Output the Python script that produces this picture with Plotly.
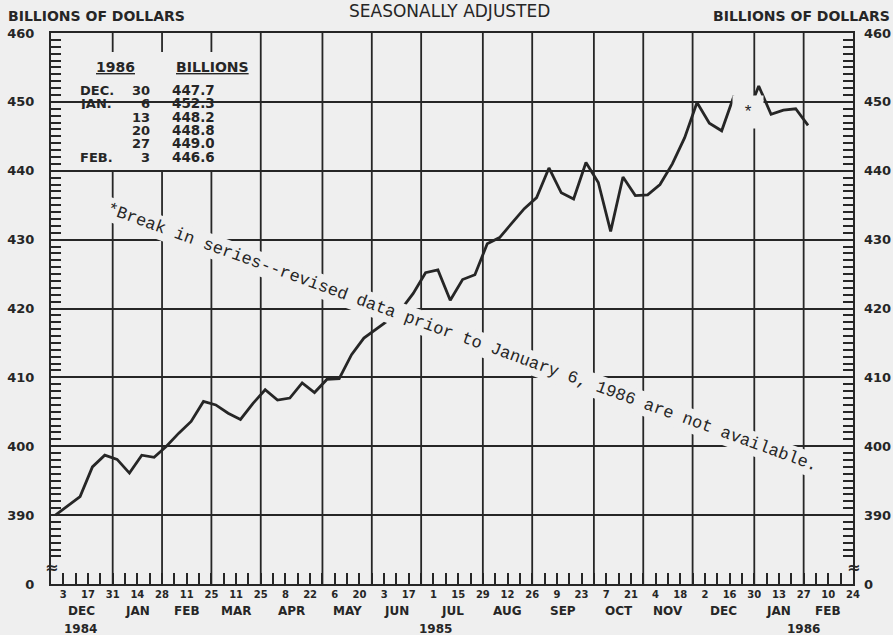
import pandas as pd
import plotly.graph_objects as go

# ---------------- data ----------------
# Money stock, weekly (week ending Monday), billions of dollars, seasonally adjusted
old_first_week = "1984-12-03"
old_values = [
    390.0, 391.4, 392.7, 397.0, 398.7, 398.1, 396.1, 398.7, 398.4, 400.0,
    401.9, 403.6, 406.5, 406.0, 404.8, 403.9, 406.2, 408.2, 406.7, 407.0,
    409.2, 407.8, 409.7, 409.8, 413.3, 415.7, 417.0, 418.3, 419.8, 422.2,
    425.2, 425.6, 421.2, 424.2, 424.9, 429.4, 430.3, 432.4, 434.5, 436.1,
    440.4, 436.8, 435.9, 441.2, 438.3, 431.2, 439.1, 436.4, 436.5, 438.0,
    441.0, 444.8, 449.9, 446.9, 445.8, 450.9,
]
new_weeks = ["1985-12-30", "1986-01-06", "1986-01-13", "1986-01-20", "1986-01-27", "1986-02-03"]
new_values = [447.7, 452.3, 448.2, 448.8, 449.0, 446.6]

table_months = ["DEC.", "JAN.", "", "", "", "FEB."]
table_days = ["30", "6", "13", "20", "27", "3"]

x_start, x_end = "1984-11-26", "1986-02-24"
week_tick_first, week_tick_last = "1984-12-03", "1986-02-24"
day_labels = ["3", "17", "31", "14", "28", "11", "25", "11", "25", "8", "22", "6", "20",
              "3", "17", "1", "15", "29", "12", "26", "9", "23", "7", "21", "4", "18",
              "2", "16", "30", "13", "27", "10", "24"]
month_seps = ["1984-12-31", "1985-01-28", "1985-02-25", "1985-03-25", "1985-04-29",
              "1985-05-27", "1985-06-24", "1985-07-29", "1985-08-26", "1985-09-30",
              "1985-10-28", "1985-11-25", "1985-12-30", "1986-01-27"]
month_names = ["DEC", "JAN", "FEB", "MAR", "APR", "MAY", "JUN", "JUL", "AUG", "SEP",
               "OCT", "NOV", "DEC", "JAN", "FEB"]
year_names = ["1984", "1985", "1986"]
year_at = ["1984-12-13", "1985-07-02", "1986-01-27"]

y_tick_vals = [380, 390, 400, 410, 420, 430, 440, 450, 460]
y_tick_text = ["0", "390", "400", "410", "420", "430", "440", "450", "460"]

# ---------------- styling ----------------
BG = "#efefef"
INK = "#262626"
SANS = "DejaVu Sans"
MONO = "Liberation Mono"
PLOT_SHIFT = pd.Timedelta(hours=108)   # weekly points drawn near start of the week

W, H = 893, 635
ML, MR, MT, MB = 51, 40, 33, 51
PW, PH = W - ML - MR, H - MT - MB


def px(x):
    return (x - ML) / PW


def py(y):
    return (H - MB - y) / PH


old_weeks = pd.date_range(old_first_week, periods=len(old_values), freq="7D")
old_x = old_weeks - PLOT_SHIFT
new_x = pd.to_datetime(new_weeks) - PLOT_SHIFT

week_ticks = pd.date_range(week_tick_first, week_tick_last, freq="7D")
tick_text = []
for i in range(len(week_ticks)):
    tick_text.append(day_labels[i // 2] if i % 2 == 0 else "")

fig = go.Figure()
fig.add_trace(go.Scatter(x=old_x, y=old_values, mode="lines",
                         line=dict(color=INK, width=2.8), hoverinfo="x+y"))
fig.add_trace(go.Scatter(x=new_x, y=new_values, mode="lines", yaxis="y2",
                         line=dict(color=INK, width=2.8), hoverinfo="x+y"))

shapes = []
for d in month_seps:
    shapes.append(dict(type="line", xref="x", yref="paper", x0=d, x1=d, y0=0, y1=1,
                       line=dict(color=INK, width=1.8), layer="between"))
# white-out box behind the small table
shapes.append(dict(type="rect", xref="paper", yref="paper",
                   x0=px(72), x1=px(258), y0=py(172), y1=py(52),
                   fillcolor=BG, line=dict(width=0), layer="between"))

minor_y = dict(tickvals=list(range(384, 460)), ticks="inside", ticklen=10,
               tickwidth=2, tickcolor=INK, showgrid=False)
yfont = dict(family=SANS, size=13, color=INK, weight="bold")

fig.update_layout(
    width=W, height=H,
    margin=dict(l=ML, r=MR, t=MT, b=MB, autoexpand=False),
    paper_bgcolor=BG, plot_bgcolor=BG,
    showlegend=False,
    shapes=shapes,
    xaxis=dict(type="date", range=[x_start, x_end], automargin=False,
               tickmode="array", tickvals=week_ticks, ticktext=tick_text,
               ticks="inside", ticklen=11, tickwidth=2, tickcolor=INK,
               showgrid=False, zeroline=False,
               showline=True, linecolor=INK, linewidth=2, mirror=True,
               tickfont=dict(family=SANS, size=10, color=INK, weight="bold"),
               ticklabelstandoff=0),
    yaxis=dict(range=[380, 460], tickmode="array", tickvals=y_tick_vals, automargin=False,
               ticktext=y_tick_text, ticks="inside", ticklen=10, tickwidth=2,
               tickcolor=INK, showgrid=True, gridcolor=INK, gridwidth=1.8,
               zeroline=False, showline=True, linecolor=INK, linewidth=2,
               mirror=True, minor=minor_y, tickfont=yfont, ticklabelstandoff=12),
    yaxis2=dict(range=[380, 460], overlaying="y", side="right", tickmode="array",
                automargin=False,
                tickvals=y_tick_vals, ticktext=y_tick_text, ticks="inside",
                ticklen=10, tickwidth=2, tickcolor=INK, showgrid=False,
                zeroline=False, showline=False, minor=minor_y, tickfont=yfont,
                ticklabelstandoff=10),
)

ann = []
# titles
ann.append(dict(text="SEASONALLY ADJUSTED", xref="paper", yref="paper", x=px(449), y=1,
                yshift=22, showarrow=False, xanchor="center", yanchor="middle",
                font=dict(family=SANS, size=17, color=INK)))
ann.append(dict(text="BILLIONS OF DOLLARS", xref="paper", yref="paper", x=px(6), y=1,
                yshift=17, showarrow=False, xanchor="left", yanchor="middle",
                font=dict(family=SANS, size=14, color=INK, weight="bold")))
ann.append(dict(text="BILLIONS OF DOLLARS", xref="paper", yref="paper", x=px(892), y=1,
                yshift=17, showarrow=False, xanchor="right", yanchor="middle",
                font=dict(family=SANS, size=14, color=INK, weight="bold")))

# month and year labels below the axis
bounds = [pd.Timestamp(x_start)] + [pd.Timestamp(d) for d in month_seps] + [pd.Timestamp(x_end)]
for i, name in enumerate(month_names):
    mid = bounds[i] + (bounds[i + 1] - bounds[i]) / 2
    ann.append(dict(text=name, xref="x", yref="paper", x=mid, y=0, yshift=-27,
                    showarrow=False, xanchor="center", yanchor="middle",
                    font=dict(family=SANS, size=12, color=INK, weight="bold")))
for name, d in zip(year_names, year_at):
    ann.append(dict(text=name, xref="x", yref="paper", x=d, y=0, yshift=-45,
                    showarrow=False, xanchor="center", yanchor="middle",
                    font=dict(family=SANS, size=12, color=INK, weight="bold")))

# axis break symbols
for xp in (0, 1):
    ann.append(dict(text="≈", xref="paper", yref="paper", x=xp, y=py(567),
                    showarrow=False, xanchor="center", yanchor="middle",
                    font=dict(family=SANS, size=16, color=INK, weight="bold")))

# small table
tfont = dict(family=SANS, size=13, color=INK, weight="bold")
vfont = dict(family=SANS, size=13.5, color=INK, weight="bold")
ann.append(dict(text="1986", xref="paper", yref="paper", x=px(115), y=py(67),
                showarrow=False, xanchor="center", yanchor="middle",
                font=dict(family=SANS, size=14, color=INK, weight="bold", lineposition="under")))
ann.append(dict(text="BILLIONS", xref="paper", yref="paper", x=px(212), y=py(67),
                showarrow=False, xanchor="center", yanchor="middle",
                font=dict(family=SANS, size=14, color=INK, weight="bold", lineposition="under")))
for k, (m, d, v) in enumerate(zip(table_months, table_days, new_values)):
    yy = py(90 + 13.3 * k)
    if m:
        ann.append(dict(text=m, xref="paper", yref="paper", x=px(78), y=yy, showarrow=False,
                        xanchor="left", yanchor="middle", height=12, font=tfont))
    ann.append(dict(text=d, xref="paper", yref="paper", x=px(152), y=yy, showarrow=False,
                    xanchor="right", yanchor="middle", height=12, font=tfont))
    ann.append(dict(text=f"{v:.1f}", xref="paper", yref="paper", x=px(170), y=yy,
                    showarrow=False, xanchor="left", yanchor="middle", height=12, font=vfont))

# break note
ann.append(dict(text="*Break in series--revised data prior to January 6, 1986 are not available.",
                xref="paper", yref="paper", x=px(462), y=py(337), textangle=20,
                showarrow=False, xanchor="center", yanchor="middle",
                bgcolor=BG, borderpad=2,
                font=dict(family=MONO, size=17, color=INK)))
ann.append(dict(text="*", xref="paper", yref="paper", x=px(748), y=py(112),
                width=28, height=30, showarrow=False, xanchor="center", yanchor="middle",
                bgcolor=BG, font=dict(family=MONO, size=17, color=INK)))

fig.update_layout(annotations=ann)
fig.write_html("out.html", config={"displayModeBar": False},
               post_script="document.body.style.margin='0px';document.body.style.background='%s';" % BG)
